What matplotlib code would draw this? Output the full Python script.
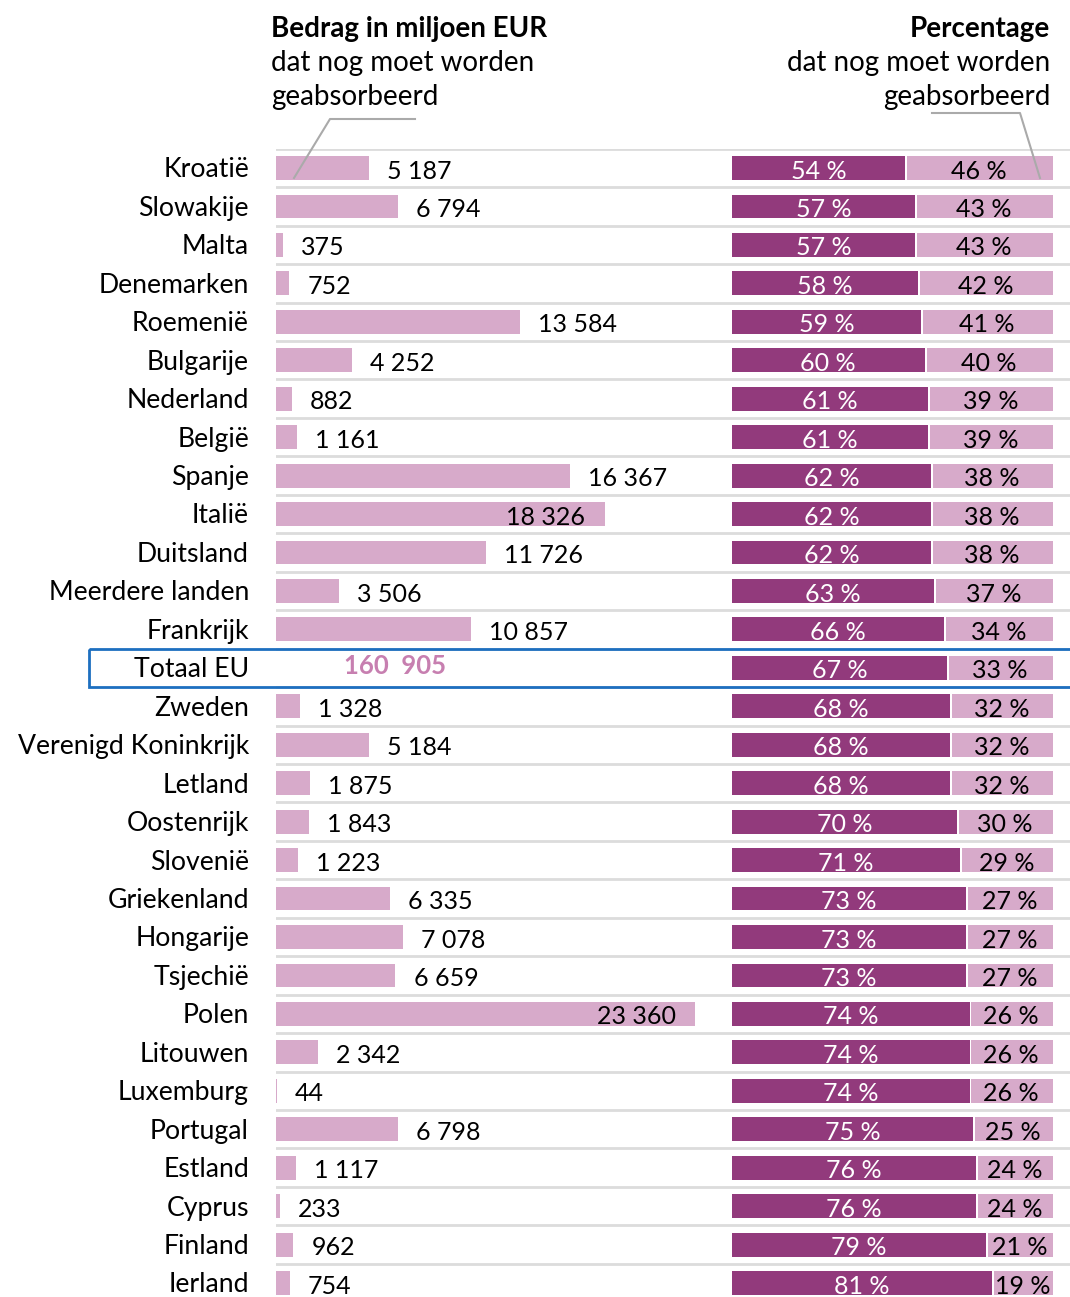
import matplotlib.pyplot as plt
from matplotlib.patches import Rectangle
from matplotlib.lines import Line2D

plt.rcParams['font.family'] = ['Lato', 'DejaVu Sans']

countries = ['Kroatië', 'Slowakije', 'Malta', 'Denemarken', 'Roemenië', 'Bulgarije',
             'Nederland', 'België', 'Spanje', 'Italië', 'Duitsland', 'Meerdere landen',
             'Frankrijk', 'Totaal EU', 'Zweden', 'Verenigd Koninkrijk', 'Letland',
             'Oostenrijk', 'Slovenië', 'Griekenland', 'Hongarije', 'Tsjechië', 'Polen',
             'Litouwen', 'Luxemburg', 'Portugal', 'Estland', 'Cyprus', 'Finland', 'Ierland']
amounts = [5187, 6794, 375, 752, 13584, 4252, 882, 1161, 16367, 18326, 11726, 3506,
           10857, 160905, 1328, 5184, 1875, 1843, 1223, 6335, 7078, 6659, 23360, 2342,
           44, 6798, 1117, 233, 962, 754]
absorbed_pct = [54, 57, 57, 58, 59, 60, 61, 61, 62, 62, 62, 63, 66, 67, 68, 68, 68, 70,
                71, 73, 73, 73, 74, 74, 74, 75, 76, 76, 79, 81]
remaining_pct = [100 - p for p in absorbed_pct]
total_row = countries.index('Totaal EU')

light = '#d7aaca'
dark = '#923a7c'
grid = '#dcdcdc'
blue = '#1d6fc0'

W, H = 1070, 1297
fig = plt.figure(figsize=(W / 100, H / 100), dpi=100)

def fx(px):
    return px / W

def fy(py):
    return 1 - py / H

row_top, row_h = 168, 38.45
n = len(countries)
y_bottom = (H - row_top) / row_h  # row index at bottom edge of figure
ax_top_px = row_top - row_h / 2

# left: amounts
ax = fig.add_axes([fx(276), 0, fx(1070 - 276), fy(ax_top_px)])
scale = 0.01794  # px per million
ax.set_xlim(0, (1070 - 276) / scale)
ax.set_ylim(y_bottom, -0.5)
ax.axis('off')

for i in range(n):
    ax.axhline(i - 0.5, color=grid, lw=2, zorder=0)

for i, (c, v) in enumerate(zip(countries, amounts)):
    ax.text(-27 / scale, i + 0.05, c, ha='right', va='center', fontsize=19.2)
    if i == total_row:
        ax.text((395 - 276) / scale, i - 0.05, f'{v:,}'.replace(',', '  '), ha='center',
                va='center', fontsize=18.5, fontweight='bold', color='#c77fb0')
        continue
    ax.barh(i, v, height=0.62, color=light, edgecolor='none')
    lab = f'{v:,}'.replace(',', ' ')
    if v > 17000:
        ax.annotate(lab, (v, i + 0.08), xytext=(-14, 0), textcoords='offset points',
                    ha='right', va='center', fontsize=18)
    else:
        ax.annotate(lab, (v, i + 0.08), xytext=(13, 0), textcoords='offset points',
                    ha='left', va='center', fontsize=18)

ax.add_patch(Rectangle((-(276 - 89) / scale, total_row - 0.5), 1500 / scale, 1,
                       fill=False, edgecolor=blue, lw=2, clip_on=False, zorder=5))

# right: percentages
ax2 = fig.add_axes([fx(732), 0, fx(1053 - 732), fy(ax_top_px)])
ax2.set_xlim(0, 100)
ax2.set_ylim(y_bottom, -0.5)
ax2.axis('off')
ax2.barh(range(n), absorbed_pct, height=0.62, color=dark, edgecolor='none')
ax2.barh(range(n), [r - 0.6 for r in remaining_pct], left=[p + 0.6 for p in absorbed_pct],
         height=0.62, color=light, edgecolor='none')
for i, (p, r) in enumerate(zip(absorbed_pct, remaining_pct)):
    ax2.text(p / 2, i + 0.08, f'{p} %', ha='center', va='center', fontsize=18, color='white')
    ax2.text(p + r / 2, i + 0.08, f'{r} %', ha='center', va='center', fontsize=18,
             color='black')

# headers
fig.text(fx(271), fy(29), 'Bedrag in miljoen EUR', fontsize=20, fontweight='bold',
         va='center', ha='left')
fig.text(fx(271), fy(63), 'dat nog moet worden', fontsize=20, va='center', ha='left')
fig.text(fx(271), fy(97), 'geabsorbeerd', fontsize=20, va='center', ha='left')
fig.text(fx(1050), fy(29), 'Percentage', fontsize=20, fontweight='bold',
         va='center', ha='right')
fig.text(fx(1050), fy(63), 'dat nog moet worden', fontsize=20, va='center', ha='right')
fig.text(fx(1050), fy(97), 'geabsorbeerd', fontsize=20, va='center', ha='right')

# leader lines
fig.add_artist(Line2D([fx(415), fx(330), fx(294)], [fy(119), fy(119), fy(178)],
                      color='#aaaaaa', lw=1.5))
fig.add_artist(Line2D([fx(932), fx(1020), fx(1040)], [fy(113), fy(113), fy(178)],
                      color='#aaaaaa', lw=1.5))

fig.savefig('out.png', dpi=100)
